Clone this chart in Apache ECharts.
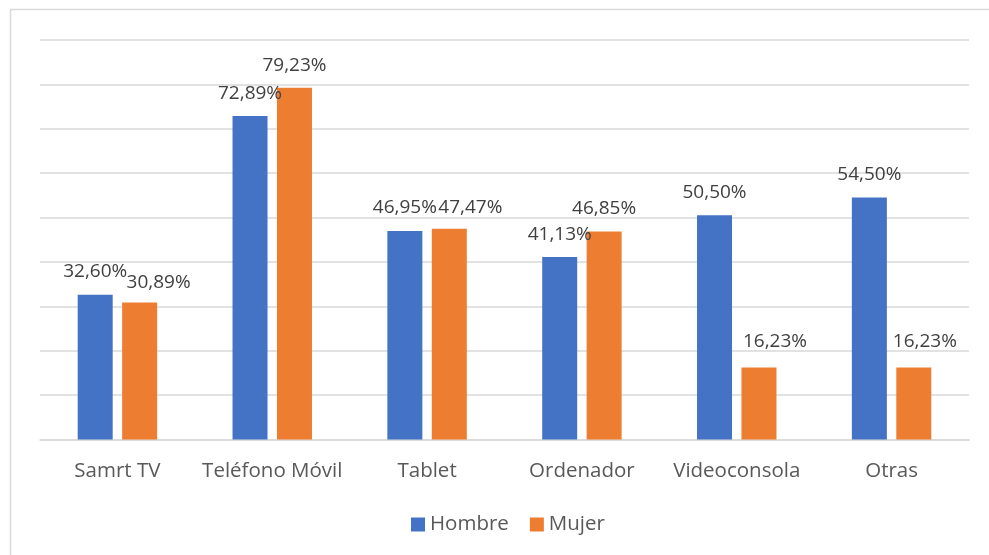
<!DOCTYPE html>
<html>
<head>
<meta charset="utf-8">
<script src="https://cdn.jsdelivr.net/npm/echarts@6/dist/echarts.min.js"></script>
<style>
html, body { margin: 0; padding: 0; background: #fff; }
#chart { width: 989px; height: 555px; }
</style>
</head>
<body>
<div id="chart"></div>
<script>
const categories = ['Samrt TV', 'Teléfono Móvil', 'Tablet', 'Ordenador', 'Videoconsola', 'Otras']
const hombre = [32.60, 72.89, 46.95, 41.13, 50.50, 54.50]
const mujer = [30.89, 79.23, 47.47, 46.85, 16.23, 16.23]
// label nudges where the original labels were moved to avoid overlapping
const hombreLabelOffset = [[0, -1], [0, 0], [0, -1], [0, 0], [0, 0], [0, 0]]
const mujerLabelOffset = [[19, 2.5], [0, 0], [21, 1.5], [0, 0], [16, -3], [11, -3]]

const fmt = (v) => v.toFixed(2).replace('.', ',') + '%'

const withOffsets = (values, offsets) => values.map((v, i) => ({
	value: v,
	label: { offset: offsets[i] },
}))

const labelStyle = {
	show: true,
	position: 'top',
	distance: 13,
	fontFamily: 'Open Sans',
	fontSize: 19,
	lineHeight: 19,
	color: '#404040',
	formatter: (p) => fmt(p.value),
}

const chart = echarts.init(document.getElementById('chart'))
chart.setOption({
	animation: false,
	textStyle: { fontFamily: 'Open Sans' },
	graphic: [
		{
			type: 'rect',
			shape: { x: 10.5, y: 9.5, width: 1000, height: 600 },
			style: { fill: 'none', stroke: '#d9d9d9', lineWidth: 1.5 },
			silent: true,
		},
	],
	grid: { left: 40, right: 20, top: 40, bottom: 115.5 },
	legend: {
		data: ['Hombre', 'Mujer'],
		left: 411,
		top: 514,
		padding: 0,
		itemWidth: 14,
		itemHeight: 14,
		itemGap: 21,
		icon: 'rect',
		textStyle: { fontFamily: 'Open Sans', fontSize: 20.5, color: '#595959' },
	},
	xAxis: {
		type: 'category',
		data: categories,
		axisLine: { lineStyle: { color: '#d9d9d9', width: 1.5 } },
		axisTick: { show: false },
		axisLabel: { fontFamily: 'Open Sans', fontSize: 20.5, color: '#595959', margin: 21, interval: 0 },
	},
	yAxis: {
		type: 'value',
		min: 0,
		max: 90,
		interval: 10,
		axisLabel: { show: false },
		axisLine: { show: false },
		axisTick: { show: false },
		splitLine: { lineStyle: { color: '#d9d9d9', width: 1.5 } },
	},
	series: [
		{
			name: 'Hombre',
			type: 'bar',
			barWidth: 35,
			barGap: '27%',
			itemStyle: { color: '#4472C4' },
			label: labelStyle,
			data: withOffsets(hombre, hombreLabelOffset),
		},
		{
			name: 'Mujer',
			type: 'bar',
			barWidth: 35,
			barGap: '27%',
			itemStyle: { color: '#ED7D31' },
			label: labelStyle,
			data: withOffsets(mujer, mujerLabelOffset),
		},
	],
})
</script>
</body>
</html>
